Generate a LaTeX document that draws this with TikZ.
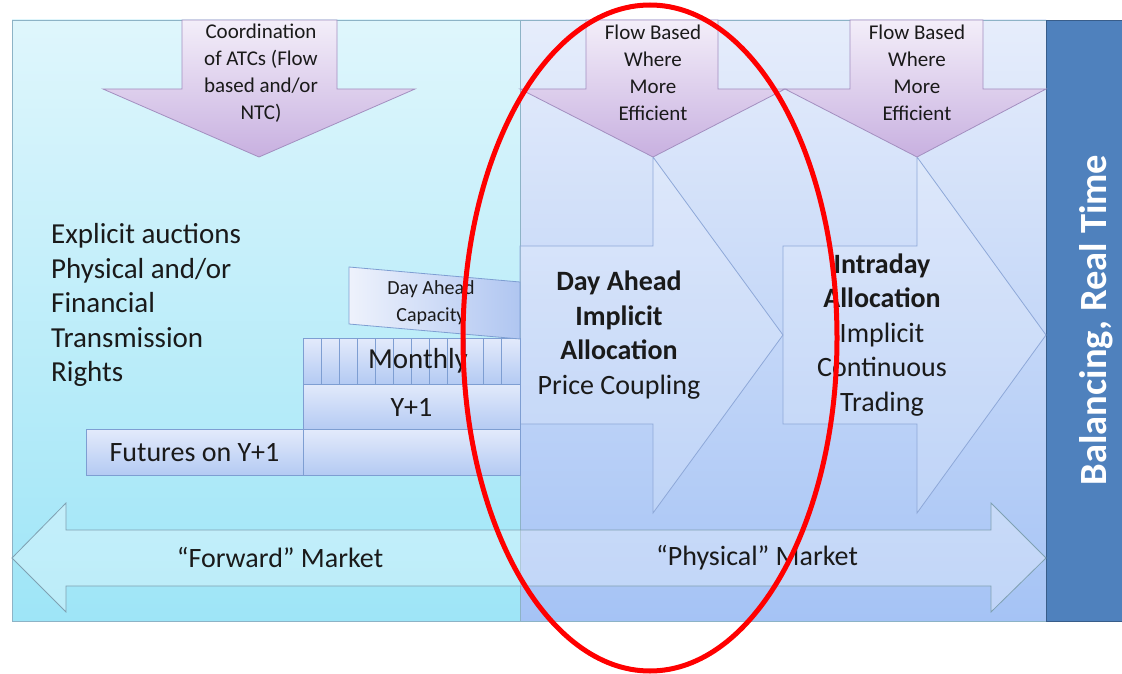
\documentclass[tikz,border=0pt]{standalone}
\usepackage{fontspec}
\setmainfont{Carlito}
\usetikzlibrary{positioning}
\definecolor{cyanTop}{HTML}{DFF6FC}
\definecolor{cyanBot}{HTML}{9EE5F7}
\definecolor{blueTop}{HTML}{E6EDFB}
\definecolor{blueBot}{HTML}{A5C3F5}
\definecolor{frameEdge}{HTML}{8DB3C6}
\definecolor{barBlue}{HTML}{4F81BD}
\definecolor{barEdge}{HTML}{385D8A}
\definecolor{lilacTop}{HTML}{F3EEF9}
\definecolor{lilacBot}{HTML}{C8B0E0}
\definecolor{lilacEdge}{HTML}{A38FC0}
\definecolor{boxTop}{HTML}{E2EAFB}
\definecolor{boxBot}{HTML}{B4CAF3}
\definecolor{boxEdge}{HTML}{7E9ED2}
\definecolor{arrowEdge}{HTML}{8EA8D8}
\definecolor{capLeft}{HTML}{EEF2FC}
\definecolor{capRight}{HTML}{B0C6F1}
\definecolor{ink}{HTML}{1A1A1A}
\tikzset{
  % panels and arrows
  panel/.style={draw=frameEdge, line width=0.8pt},
  downarr/.style={draw=lilacEdge, line width=0.8pt, top color=lilacTop, bottom color=lilacBot},
  bigarr/.style={draw=arrowEdge, line width=0.8pt, fill=white, fill opacity=0.18},
  twoway/.style={draw=frameEdge!90!black, line width=0.8pt, fill=white, fill opacity=0.3},
  box/.style={draw=boxEdge, line width=0.8pt, top color=boxTop, bottom color=boxBot,
    inner sep=0pt, outer sep=0pt, minimum width=217, minimum height=45.5,
    text=ink, font=\fontsize{28}{34}\selectfont},
  % text
  lbl/.style={text=ink, align=center, inner sep=0pt, font=\fontsize{28}{34.5}\selectfont},
  small/.style={text=ink, align=center, inner sep=0pt, font=\fontsize{21}{27}\selectfont},
  redring/.style={draw=red, line width=5pt}
}

\begin{document}
\begin{tikzpicture}[x=1pt,y=-1pt]
  \fill[white] (0,0) rectangle (1122,674);
  \useasboundingbox (0,0) rectangle (1122,674);

  \path[panel, top color=cyanTop, bottom color=cyanBot] (12,20) rectangle (520,621);
  \path[panel, top color=blueTop, bottom color=blueBot] (520,20) rectangle (1046,621);
  \path[fill=barBlue, draw=barEdge, line width=0.8pt] (1046,20) rectangle (1123,621);

  % right pointing arrows
  \path[bigarr] (520,246) -- (653,246) -- (653,157) -- (783,335) -- (653,513)
    -- (653,424) -- (520,424) -- cycle;
  \path[bigarr] (783,246) -- (917,246) -- (917,157) -- (1046,335) -- (917,513)
    -- (917,424) -- (783,424) -- cycle;

  % down arrows
  \path[downarr] (182,20) -- (337,20) -- (337,89) -- (415,89) -- (259,157)
    -- (103,89) -- (182,89) -- cycle;
  \path[downarr] (586,20) -- (718,20) -- (718,89) -- (785,89) -- (653,157)
    -- (520,89) -- (586,89) -- cycle;
  \path[downarr] (850,20) -- (983,20) -- (983,89) -- (1046,89) -- (917,157)
    -- (785,89) -- (850,89) -- cycle;

  \node[small] (coord) at (261,73) {Coordination\\of ATCs (Flow\\based and/or\\NTC)};
  \node[small] (fbda) at (653,73) {Flow Based\\Where\\More\\Efficient};
  \node[small] (fbid) at (917,73) {Flow Based\\Where\\More\\Efficient};

  % forward side
  \node[lbl, align=left, anchor=west, font=\fontsize{29}{34.5}\selectfont] (explicit) at (51,305)
    {Explicit auctions\\Physical and/or\\Financial\\Transmission\\Rights};

  \node[box] (futures) at (194.5,452.5) {Futures on Y+1};
  \node[box, right=0pt of futures] (base) {};
  \node[box, above=0pt of base] (yplus) {Y+1};
  \node[box, above=0pt of yplus] (monthly) {};
  \foreach \i in {1,...,11}
    \draw[boxEdge, line width=0.8pt] (303+18*\i,339) -- (303+18*\i,384);
  \node[lbl, font=\fontsize{29}{34}\selectfont] (monthlytxt) at (418,361) {Monthly};

  \path[draw=boxEdge, line width=0.8pt, left color=capLeft, right color=capRight]
    (349,267) -- (520,282) -- (520,339) -- (349,324) -- cycle;
  \node[small, font=\fontsize{20}{27}\selectfont] (capacity) at (431,303)
    {Day Ahead\\Capacity};

  % physical side
  \node[lbl] (dayahead) at (619,335)
    {\textbf{Day Ahead}\\\textbf{Implicit}\\\textbf{Allocation}\\Price Coupling};
  \node[lbl] (intraday) at (882,335)
    {\textbf{Intraday}\\\textbf{Allocation}\\Implicit\\Continuous\\Trading};

  \node[text=white, rotate=90, inner sep=0pt, font=\fontsize{38.5}{40}\selectfont\bfseries]
    (balancing) at (1096,320) {Balancing, Real Time};

  % market arrow
  \path[twoway] (12,558) -- (66,503) -- (66,530) -- (991,530) -- (991,503)
    -- (1046,558) -- (991,612) -- (991,586) -- (66,586) -- (66,612) -- cycle;
  \node[lbl] (forward) at (280,558) {“Forward” Market};
  \node[lbl] (physical) at (757,558) {“Physical” Market};

  \draw[redring] (650,338) ellipse [x radius=187, y radius=333];
\end{tikzpicture}
\end{document}
